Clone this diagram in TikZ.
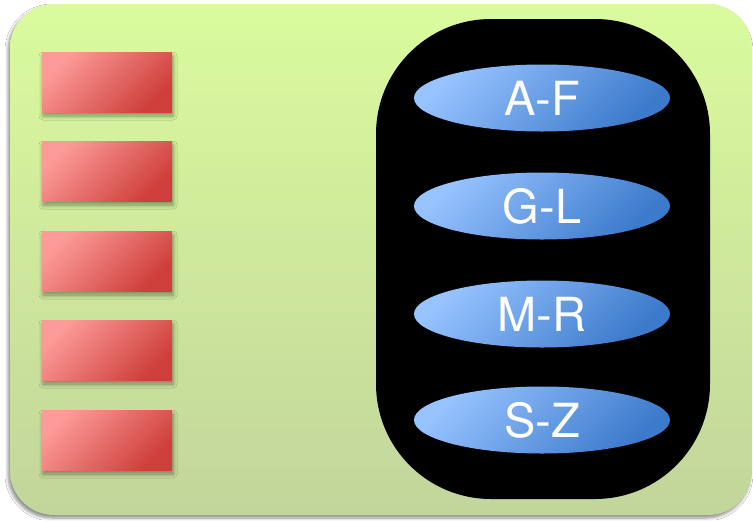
\documentclass[tikz,border=0pt]{standalone}
\usepackage{fontspec}
\setmainfont{TeX Gyre Heros}
\usetikzlibrary{shadows.blur,shapes.geometric}

\definecolor{panelTop}{RGB}{218,251,157}
\definecolor{panelBot}{RGB}{194,213,155}
\definecolor{slotLight}{RGB}{252,155,152}
\definecolor{slotDark}{RGB}{206,62,58}
\definecolor{shardLight}{RGB}{151,195,255}
\definecolor{shardDark}{RGB}{60,122,203}

\tikzset{
  panel/.style={rounded corners=44pt, top color=panelTop, bottom color=panelBot,
    blur shadow={shadow xshift=-2pt, shadow yshift=-3pt, shadow blur steps=6,
      shadow blur radius=3pt, shadow opacity=45}},
  slot/.style={rectangle, minimum width=130pt, minimum height=60pt, inner sep=0pt,
    top color=slotLight, bottom color=slotDark, shading angle=45,
    blur shadow={shadow xshift=1pt, shadow yshift=-4pt, shadow blur steps=6,
      shadow blur radius=4pt, shadow opacity=40}},
  store/.style={rounded corners=115pt, fill=black},
  shard/.style={ellipse, minimum width=256pt, minimum height=67pt, inner sep=0pt,
    top color=shardLight, bottom color=shardDark, shading angle=45,
    text=white, font=\fontsize{47}{50}\selectfont},
}

\begin{document}
\begin{tikzpicture}[x=1pt, y=-1pt]
  \useasboundingbox[fill=white] (0,0) rectangle (753,520);

  % green panel
  \path[panel] (10,4) rectangle (752,515);

  % left column of slots
  \node[slot] (s1) at (107,82) {};
  \node[slot] (s2) at (107,171) {};
  \node[slot] (s3) at (107,261) {};
  \node[slot] (s4) at (107,350) {};
  \node[slot] (s5) at (107,440) {};

  % store with its key ranges
  \path[store] (376,19) rectangle (710,499);
  \node[shard] (af) at (542,98) {A-F};
  \node[shard] (gl) at (542,206) {G-L};
  \node[shard] (mr) at (542,314) {M-R};
  \node[shard] (sz) at (542,420) {S-Z};
\end{tikzpicture}
\end{document}
